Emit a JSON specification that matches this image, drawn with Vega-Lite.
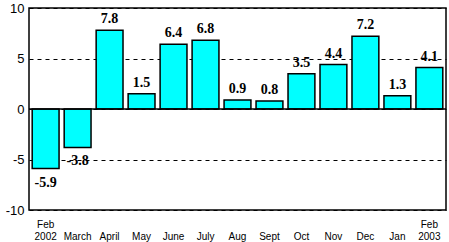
{
  "$schema": "https://vega.github.io/schema/vega-lite/v6.json",
  "autosize": {"type": "none"},
  "width": 417,
  "height": 202,
  "padding": {"left": 29, "top": 8, "right": 3, "bottom": 32},
  "background": "white",
  "config": {"view": {"stroke": "black", "strokeWidth": 1.5}},
  "data": {"values": [
    {"month": "Feb 2002", "v": -5.9},
    {"month": "March", "v": -3.8},
    {"month": "April", "v": 7.8},
    {"month": "May", "v": 1.5},
    {"month": "June", "v": 6.4},
    {"month": "July", "v": 6.8},
    {"month": "Aug", "v": 0.9},
    {"month": "Sept", "v": 0.8},
    {"month": "Oct", "v": 3.5},
    {"month": "Nov", "v": 4.4},
    {"month": "Dec", "v": 7.2},
    {"month": "Jan", "v": 1.3},
    {"month": "Feb 2003", "v": 4.1}
  ]},
  "encoding": {
    "x": {"field": "month", "type": "nominal", "sort": null,
      "scale": {"paddingInner": 0.16, "paddingOuter": 0.1},
      "axis": {"title": null, "labelAngle": 0, "domain": false, "ticks": false,
        "labelExpr": "length(split(datum.label,' '))>1 ? split(datum.label,' ') : ['', datum.label]",
        "labelFont": "Liberation Sans", "labelFontSize": 10, "labelColor": "black",
        "labelPadding": 9, "labelLineHeight": 12, "labelBaseline": "top"}}
  },
  "layer": [
    {
      "mark": {"type": "bar", "fill": "#00FFFF", "stroke": "black", "strokeWidth": 1.5},
      "encoding": {
        "y": {"field": "v", "type": "quantitative",
          "scale": {"domain": [-10, 10], "nice": false, "zero": true},
          "axis": {"title": null, "values": [-10, -5, 0, 5, 10], "ticks": false, "domain": false,
            "grid": true, "gridColor": "black", "gridDash": [4, 4], "gridWidth": 1, "gridOpacity": 1,
            "labelExpr": "toString(datum.value)",
            "labelFont": "Liberation Sans", "labelFontSize": 13, "labelColor": "black", "labelPadding": 5}}
      }
    },
    {
      "mark": {"type": "rule", "color": "black", "strokeWidth": 1.5},
      "data": {"values": [{"z": 0}]},
      "encoding": {"y": {"field": "z", "type": "quantitative"}, "x": null}
    },
    {
      "transform": [{"filter": "datum.v >= 0"}],
      "mark": {"type": "text", "font": "Liberation Serif", "fontWeight": "bold", "fontSize": 14, "baseline": "bottom", "dy": -4, "color": "black"},
      "encoding": {"y": {"field": "v", "type": "quantitative"}, "text": {"field": "v", "type": "nominal"}}
    },
    {
      "transform": [{"filter": "datum.v < 0"}],
      "mark": {"type": "text", "font": "Liberation Serif", "fontWeight": "bold", "fontSize": 14, "baseline": "top", "dy": 7, "color": "black"},
      "encoding": {"y": {"field": "v", "type": "quantitative"}, "text": {"field": "v", "type": "nominal"}}
    }
  ]
}
